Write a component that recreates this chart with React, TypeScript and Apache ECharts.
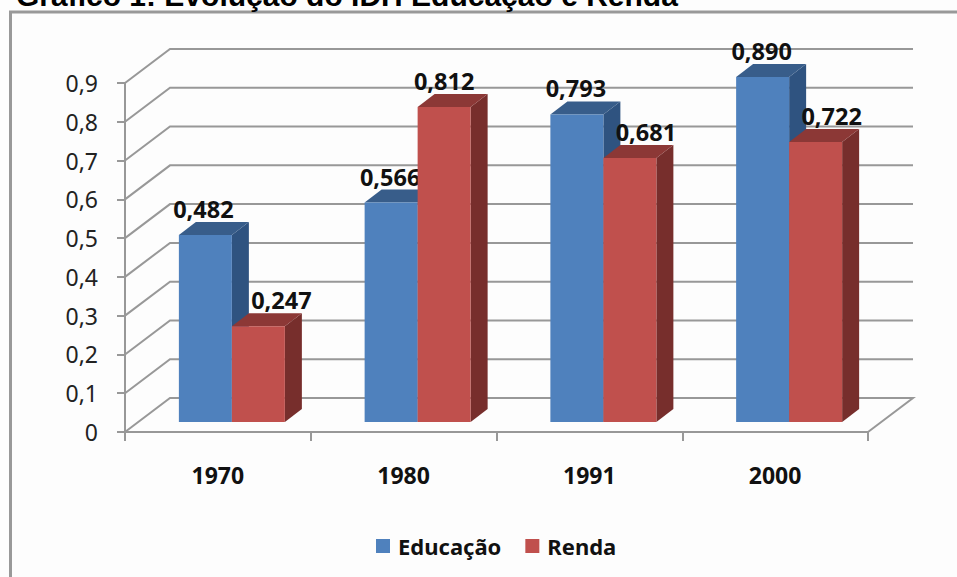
import React, { useEffect, useRef } from "react";
import * as echarts from "echarts";

const categories = ["1970", "1980", "1991", "2000"];
const educacao = [0.482, 0.566, 0.793, 0.89];
const renda = [0.247, 0.812, 0.681, 0.722];
const yTicks = [0, 0.1, 0.2, 0.3, 0.4, 0.5, 0.6, 0.7, 0.8, 0.9];
const titleText = "Gráfico 1: Evolução do IDH Educação e Renda";

const WALL_DX = 45;
const WALL_DY = 34;
const FLOOR_DX = 14;
const FLOOR_DY = 10;
const BAR_W = 53;
const DEPTH_X = 17;
const DEPTH_Y = 13;
const GRID_COLOR = "#989898";
const FONT = "'Noto Sans', sans-serif";

const fmt = (v: number) => v.toFixed(3).replace(".", ",");

function barRender(side: -1 | 0, front: string, top: string, right: string, labelShift: number[]) {
  return (params: any, api: any) => {
    const cat = api.value(0);
    const v = api.value(1);
    const base = api.coord([cat, 0]);
    const head = api.coord([cat, v]);
    const x0 = base[0] + FLOOR_DX + side * BAR_W;
    const x1 = x0 + BAR_W;
    const yB = base[1] - FLOOR_DY;
    const yT = head[1] - FLOOR_DY;
    const poly = (points: number[][], fill: string) => ({
      type: "polygon",
      shape: { points },
      style: { fill, stroke: null },
    });
    return {
      type: "group",
      children: [
        poly(
          [
            [x1, yB],
            [x1 + DEPTH_X, yB - DEPTH_Y],
            [x1 + DEPTH_X, yT - DEPTH_Y],
            [x1, yT],
          ],
          right
        ),
        poly(
          [
            [x0, yT],
            [x0 + DEPTH_X, yT - DEPTH_Y],
            [x1 + DEPTH_X, yT - DEPTH_Y],
            [x1, yT],
          ],
          top
        ),
        { type: "rect", shape: { x: x0, y: yT, width: BAR_W, height: yB - yT }, style: { fill: front } },
        {
          type: "text",
          style: {
            x: (x0 + x1) / 2 + labelShift[params.dataIndex],
            y: yT - 26,
            text: fmt(v),
            fill: "#111",
            font: `bold 23.5px ${FONT}`,
            align: "center",
            verticalAlign: "middle",
          },
        },
      ],
    };
  };
}

export default function App() {
  const ref = useRef<HTMLDivElement>(null);
  useEffect(() => {
    const chart = echarts.init(ref.current!, null, { renderer: "svg" });
    chart.setOption({
      animation: false,
      backgroundColor: "#fdfdfd",
      grid: { left: 125, right: 89, top: 83, bottom: 145 },
      legend: {
        left: 371,
        top: 530,
        itemWidth: 14,
        itemHeight: 14,
        itemGap: 24,
        data: ["Educação", "Renda"],
        icon: "rect",
        textStyle: { fontFamily: FONT, fontWeight: "bold", fontSize: 22, color: "#111", padding: [0, 0, 0, 3] },
      },
      xAxis: {
        type: "category",
        data: categories,
        axisLine: { lineStyle: { color: GRID_COLOR, width: 2 } },
        axisTick: { show: true, length: 9, alignWithLabel: false, lineStyle: { color: GRID_COLOR, width: 2 } },
        axisLabel: { margin: 31, color: "#111", fontFamily: FONT, fontWeight: "bold", fontSize: 23 },
        splitLine: { show: false },
      },
      yAxis: {
        type: "value",
        min: 0,
        max: 0.9,
        interval: 0.1,
        axisLine: { show: true, lineStyle: { color: GRID_COLOR, width: 2 } },
        axisTick: { show: true, length: 8, lineStyle: { color: GRID_COLOR, width: 2 } },
        axisLabel: {
          margin: 27,
          color: "#222",
          fontFamily: FONT,
          fontSize: 23,
          formatter: (v: number) => (v === 0 ? "0" : v.toFixed(1).replace(".", ",")),
        },
        splitLine: { show: false },
      },
      graphic: [
        {
          type: "polyline",
          silent: true,
          shape: { points: [[10.5, 577], [10.5, 12], [957, 12]] },
          style: { stroke: "#999", lineWidth: 3, fill: null },
        },
        {
          type: "text",
          x: 16,
          y: -20,
          style: { text: titleText, fill: "#000", font: "bold 30px 'Liberation Sans', sans-serif" },
        },
      ],
      series: [
        {
          name: "wall",
          type: "custom",
          silent: true,
          data: yTicks.map((t) => [0, t]),
          encode: { x: 0, y: 1 },
          renderItem: (params: any, api: any) => {
            const rect = params.coordSys;
            const y = api.coord([0, api.value(1)])[1];
            const left = rect.x;
            const right = rect.x + rect.width;
            const pts = [
              [left, y],
              [left + WALL_DX, y - WALL_DY],
              [right + WALL_DX, y - WALL_DY],
            ];
            if (api.value(1) === 0) pts.push([right, y]);
            return {
              type: "polyline",
              shape: { points: pts },
              style: { stroke: GRID_COLOR, lineWidth: 2, fill: null },
            };
          },
        },
        {
          name: "Educação",
          type: "custom",
          color: "#4F81BD",
          itemStyle: { color: "#4F81BD" },
          data: educacao.map((v, i) => [i, v]),
          encode: { x: 0, y: 1 },
          renderItem: barRender(-1, "#4F81BD", "#385D8A", "#2F5380", [-2, -1, -1, -1]),
        },
        {
          name: "Renda",
          type: "custom",
          color: "#C0504D",
          itemStyle: { color: "#C0504D" },
          data: renda.map((v, i) => [i, v]),
          encode: { x: 0, y: 1 },
          renderItem: barRender(0, "#C0504D", "#8C3836", "#772E2C", [23, 0, 16, 16]),
        },
      ],
    });
    return () => chart.dispose();
  }, []);
  return <div ref={ref} style={{ position: "absolute", left: 0, top: 0, width: 957, height: 577 }} />;
}
